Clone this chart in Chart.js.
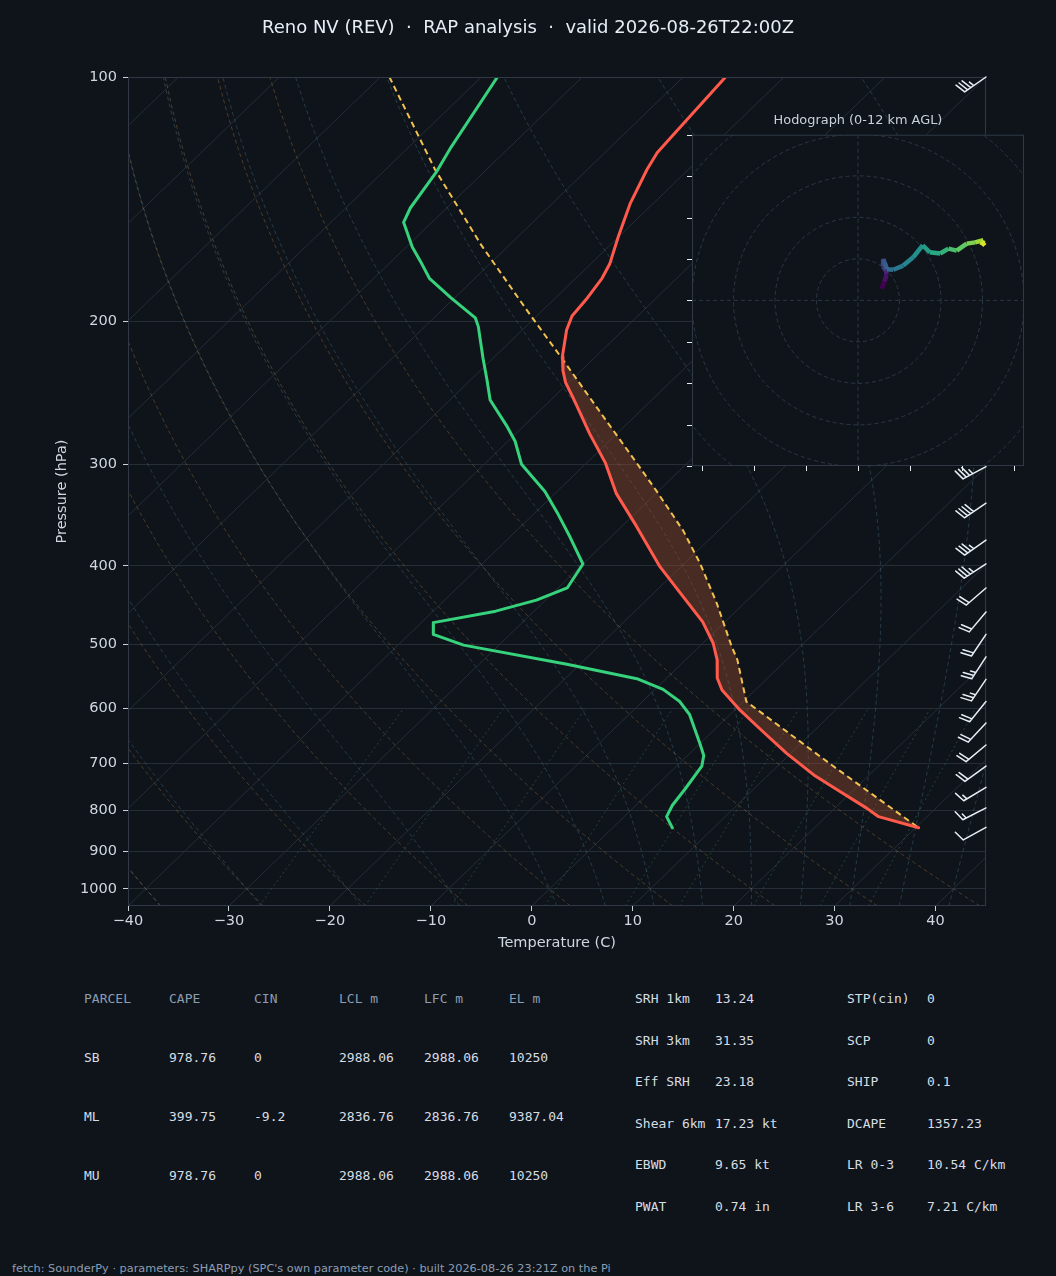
<!DOCTYPE html>
<html lang="en">
<head>
<meta charset="utf-8">
<title>Reno NV (REV) skew-T</title>
<script src="https://cdn.jsdelivr.net/npm/chart.js@4.4.1/dist/chart.umd.min.js"></script>
<style>
  html, body { margin:0; padding:0; background:#0f141b; }
  body { width:1056px; height:1276px; position:relative; overflow:hidden; font-family:"DejaVu Sans", sans-serif; }
  #main { position:absolute; left:0; top:0; }
  #title { position:absolute; left:0; top:16px; width:1056px; text-align:center; color:#e6edf3; font-size:18px; line-height:22px; white-space:pre; }
  #hodo { position:absolute; left:662px; top:124px; }
  #hodoTitle { position:absolute; left:692px; top:112px; width:332px; text-align:center; color:#c9d1d9; font-size:12.9px; line-height:16px; }
  .cell { position:absolute; font-family:"DejaVu Sans Mono", monospace; font-size:13px; line-height:16px; color:#d6dde4; white-space:pre; }
  .hdr { color:#8d9db1; }
  #footer { position:absolute; left:12px; top:1262px; font-size:11.3px; line-height:14px; color:#8d9db1; white-space:pre; }
</style>
</head>
<body>
<canvas id="main" width="1056" height="970"></canvas>
<div id="title">Reno NV (REV)  ·  RAP analysis  ·  valid 2026-08-26T22:00Z</div>
<canvas id="hodo" width="372" height="356"></canvas>
<div id="hodoTitle">Hodograph (0-12 km AGL)</div>
<div id="table"></div>
<div id="footer">fetch: SounderPy · parameters: SHARPpy (SPC's own parameter code) · built 2026-08-26 23:21Z on the Pi</div>
<script>
// ---------------- data ----------------
const presT  = [100,119,124,130,143,157,170,177,188,197,205,221,230,238,248,275,299,326,358,401,432,469,498,522,550,569,602,641,681,724,759,796,815,841];
const tempC  = [-65.8,-65.0,-64.8,-64.1,-62.3,-60.1,-58.1,-57.4,-56.8,-56.5,-55.6,-53.3,-51.8,-50.3,-48.1,-42.7,-38.1,-33.9,-28.5,-22.1,-17.4,-12.2,-9.0,-6.9,-5.0,-3.3,0.5,5.1,9.6,14.5,18.8,23.2,25.2,30.3];
const presD  = [100,122,131,145,151,162,170,177,187,198,203,222,236,250,270,281,300,324,346,369,398,426,441,455,470,486,501,529,551,568,588,610,661,685,706,754,789,815,841];
const dwptC  = [-88.4,-85.8,-84.7,-83.6,-82.8,-79.4,-76.7,-74.5,-70.4,-65.9,-64.7,-61.0,-58.4,-56.0,-51.5,-49.3,-46.3,-41.2,-37.5,-34.0,-30.0,-29.1,-30.9,-33.8,-38.8,-37.6,-33.5,-21.3,-12.9,-9.2,-6.3,-4.0,-0.1,1.6,2.5,3.2,3.6,4.2,5.9];
const presParcel = [100,130,161,194,222,265,299,323,362,397,445,503,522,588,706,841];
const parcelC    = [-99.1,-85.1,-72.8,-61.5,-53.2,-42.4,-35.0,-30.3,-23.5,-18.5,-12.7,-6.8,-4.9,0.3,15.5,30.3];
const elPres = 221;   // equilibrium level (top of CAPE area)

const barbP   = [100,302,335,372,398,426,456,486,518,552,588,625,665,706,750,795,840];
const barbDir = [235,242,236,235,237,229,220,214,213,214,219,223,230,234,239,243,241];
const barbSpd = [35,35,40,35,35,20,20,20,25,25,20,20,20,20,15,15,10];

const hodoU = [5.7,6.4,6.9,6.7,6.0,6.1,6.4,7.0,8.5,10.9,13.3,15.6,17.3,19.8,21.8,23.8,26.2,28.2,30.2,29.8,30.6];
const hodoV = [2.8,4.6,6.3,7.2,8.2,10.0,9.2,7.5,7.4,8.4,10.4,13.3,11.6,11.3,12.5,12.0,13.7,14.0,14.5,13.3,14.0];

const xTicks = [-40,-30,-20,-10,0,10,20,30,40];
const pTicks = [100,200,300,400,500,600,700,800,900,1000];
const hodoRings  = [10,20,30,40,50];
const hodoXTicks = [-37.5,-25,-12.5,0,12.5,25,37.5];
const hodoYTicks = [-40,-30,-20,-10,0,10,20,30,40];

// reference-line families (MetPy defaults)
const isoT   = [-120,-110,-100,-90,-80,-70,-60,-50,-40,-30,-20,-10,0,10,20,30,40];
const dryT0  = [-40,-30,-20,-10,0,10,20,30,40];
const moistT0= [-40,-30,-20,-10,0,5,10,15,20,25,30,35,40,45];
const mixW   = [0.4,1,2,4,7,10,16,24,32];   // g/kg

// table
const tblHead  = ['PARCEL','CAPE','CIN','LCL m','LFC m','EL m'];
const parcels  = ['SB','ML','MU'];
const capeVals = ['978.76','399.75','978.76'];
const cinVals  = ['0','-9.2','0'];
const lclVals  = ['2988.06','2836.76','2988.06'];
const lfcVals  = ['2988.06','2836.76','2988.06'];
const elVals   = ['10250','9387.04','10250'];
const parLbl1 = ['SRH 1km','SRH 3km','Eff SRH','Shear 6km','EBWD','PWAT'];
const parVal1 = ['13.24','31.35','23.18','17.23 kt','9.65 kt','0.74 in'];
const parLbl2 = ['STP(cin)','SCP','SHIP','DCAPE','LR 0-3','LR 3-6'];
const parVal2 = ['0','0','0.1','1357.23','10.54 C/km','7.21 C/km'];

// ---------------- skew-T geometry ----------------
const P_TOP = 100, P_BOT = 1050, X_MIN = -40, X_MAX = 45;
const SKEW = X_MAX - X_MIN;                 // 45 degree skew in axes units
const LOGSPAN = Math.log(P_BOT / P_TOP);
const skewX = (T, p) => T + SKEW * Math.log(P_BOT / p) / LOGSPAN;
const pt = (T, p) => ({x: skewX(T, p), y: p});

// thermodynamics for background lines
const Rd = 287.04749, Cp = 1004.6662, Lv = 2.50084e6, EPS = 0.6219569, KAP = Rd / Cp;
const esat = Tk => { const c = Tk - 273.15; return 6.112 * Math.exp(17.67 * c / (c + 243.5)); };
const rsat = (p, Tk) => { const e = esat(Tk); return EPS * e / (p - e); };
const dTdp = (p, T) => { const r = rsat(p, T); return (Rd * T + Lv * r) / (Cp + Lv * Lv * r * EPS / (Rd * T * T)) / p; };
function moistLine(t0) {
  const up = [], dn = [];
  let T = t0 + 273.15, p = 1000, h = -5;
  up.push({p, T});
  while (p > P_TOP + 1e-6) {
    const k1 = dTdp(p, T), k2 = dTdp(p + h/2, T + h/2*k1), k3 = dTdp(p + h/2, T + h/2*k2), k4 = dTdp(p + h, T + h*k3);
    T += h/6*(k1 + 2*k2 + 2*k3 + k4); p += h; up.push({p, T});
  }
  T = t0 + 273.15; p = 1000; h = 5;
  while (p < P_BOT - 1e-6) {
    const k1 = dTdp(p, T), k2 = dTdp(p + h/2, T + h/2*k1), k3 = dTdp(p + h/2, T + h/2*k2), k4 = dTdp(p + h, T + h*k3);
    T += h/6*(k1 + 2*k2 + 2*k3 + k4); p += h; dn.push({p, T});
  }
  return dn.reverse().concat(up).map(o => pt(o.T - 273.15, o.p));
}
function dryLine(t0) {
  const out = [];
  for (let p = P_BOT; p >= P_TOP; p -= 10) out.push(pt((t0 + 273.15) * Math.pow(p / 1000, KAP) - 273.15, p));
  return out;
}
function mixLine(wgk) {
  const w = wgk / 1000, out = [];
  for (let p = P_BOT; p >= 600; p -= 10) {
    const e = p * w / (EPS + w), l = Math.log(e / 6.112);
    out.push(pt(243.5 * l / (17.67 - l), p));
  }
  return out;
}

const GRID = '#252d37';
function lineDS(data, color, width, dash, order, extra) {
  return Object.assign({data, showLine: true, borderColor: color, borderWidth: width, borderDash: dash,
    pointRadius: 0, pointHoverRadius: 0, fill: false, order, tension: 0}, extra || {});
}

const datasets = [];
datasets.push(lineDS(presT.map((p, i) => pt(tempC[i], p)), '#ff5a4b', 3, [], 0, {borderJoinStyle: 'round', borderCapStyle: 'round'}));
datasets.push(lineDS(presD.map((p, i) => pt(dwptC[i], p)), '#36d27c', 3, [], 0, {borderJoinStyle: 'round', borderCapStyle: 'round'}));
const PARCEL_IDX = datasets.length;
datasets.push(lineDS(presParcel.map((p, i) => pt(parcelC[i], p)), '#f2c14e', 2, [6, 4], 1));
isoT.forEach(T => datasets.push(lineDS([pt(T, P_BOT), pt(T, P_TOP)], GRID, 1, [], 20)));
dryT0.forEach(t => datasets.push(lineDS(dryLine(t), 'rgba(180,130,70,0.36)', 1, [4, 3], 10)));
moistT0.forEach(t => datasets.push(lineDS(moistLine(t), 'rgba(90,150,175,0.30)', 1, [4, 3], 10)));
mixW.forEach(w => datasets.push(lineDS(mixLine(w), 'rgba(80,175,125,0.30)', 1, [2, 3], 10)));

// CAPE polygon from parcel and environment arrays
const capePoly = [];
presParcel.forEach((p, i) => { if (p >= elPres) capePoly.push([parcelC[i], p]); });
for (let i = presT.length - 1; i >= 0; i--) if (presT[i] >= elPres) capePoly.push([tempC[i], presT[i]]);

function drawBarb(ctx, x0, y0, dirDeg, spd) {
  const L = 26, F = 11, SP = 3.7, a = 73 * Math.PI / 180, c = Math.cos(a), s = Math.sin(a);
  const d = dirDeg * Math.PI / 180, dx = Math.sin(d), dy = -Math.cos(d);
  const fx = dx * c - dy * s, fy = dx * s + dy * c;
  const tx = x0 + dx * L, ty = y0 + dy * L;
  ctx.beginPath();
  ctx.moveTo(x0, y0); ctx.lineTo(tx, ty);
  let r = Math.round(spd / 5) * 5;
  const flags = Math.floor(r / 50); r -= flags * 50;
  const full = Math.floor(r / 10); r -= full * 10;
  const half = r >= 5;
  let k = 0;
  for (let i = 0; i < full + flags; i++) {
    const bx = tx - dx * SP * k, by = ty - dy * SP * k;
    ctx.moveTo(bx, by); ctx.lineTo(bx + fx * F, by + fy * F); k++;
  }
  if (half) {
    if (k === 0) k = 1;
    const bx = tx - dx * SP * k, by = ty - dy * SP * k;
    ctx.moveTo(bx, by); ctx.lineTo(bx + fx * F * 0.5, by + fy * F * 0.5);
  }
  ctx.stroke();
}

const skewPlugin = {
  id: 'skewExtras',
  beforeDatasetDraw(chart, args) {
    if (args.index !== PARCEL_IDX) return;
    const {ctx, chartArea: ca, scales: {x, y}} = chart;
    ctx.save();
    ctx.beginPath(); ctx.rect(ca.left, ca.top, ca.right - ca.left, ca.bottom - ca.top); ctx.clip();
    ctx.beginPath();
    capePoly.forEach(([T, p], i) => {
      const px = x.getPixelForValue(skewX(T, p)), py = y.getPixelForValue(p);
      if (i === 0) ctx.moveTo(px, py); else ctx.lineTo(px, py);
    });
    ctx.closePath();
    ctx.fillStyle = 'rgba(175,86,50,0.36)';
    ctx.fill();
    ctx.restore();
  },
  afterDatasetsDraw(chart) {
    const {ctx, chartArea: ca, scales: {y}} = chart;
    ctx.save();
    ctx.strokeStyle = '#2f3844'; ctx.lineWidth = 1;
    ctx.strokeRect(ca.left + 0.5, ca.top + 0.5, ca.right - ca.left - 1, ca.bottom - ca.top - 1);
    ctx.strokeStyle = '#e6edf3'; ctx.lineWidth = 1.5; ctx.lineCap = 'round'; ctx.lineJoin = 'round';
    barbP.forEach((p, i) => drawBarb(ctx, ca.right, y.getPixelForValue(p), barbDir[i], barbSpd[i]));
    ctx.restore();
  }
};

Chart.defaults.font.family = '"DejaVu Sans", sans-serif';
const minus = v => (v < 0 ? '\u2212' + Math.abs(v) : String(v));
const tickFont = {family: '"DejaVu Sans", sans-serif', size: 14.5};

new Chart(document.getElementById('main'), {
  type: 'scatter',
  data: {datasets},
  options: {
    responsive: false, animation: false, events: [],
    layout: {padding: {left: 0, top: 77, right: 70, bottom: 8}},
    plugins: {legend: {display: false}, tooltip: {enabled: false}, title: {display: false}},
    scales: {
      x: {
        type: 'linear', min: X_MIN, max: X_MAX,
        afterBuildTicks: s => { s.ticks = xTicks.map(v => ({value: v})); },
        afterFit: s => { s.height = 56; },
        grid: {drawOnChartArea: false, drawTicks: true, tickLength: 5, color: '#c9d1d9', tickColor: '#c9d1d9'},
        border: {display: false},
        ticks: {color: '#d0d7de', font: tickFont, padding: 2, autoSkip: false, maxRotation: 0, minRotation: 0, callback: v => minus(v)},
        title: {display: true, text: 'Temperature (C)', color: '#d0d7de', font: tickFont, padding: {top: 0, bottom: 10}}
      },
      y: {
        type: 'logarithmic', reverse: true, min: P_TOP, max: P_BOT,
        afterBuildTicks: s => { s.ticks = pTicks.map(v => ({value: v})); },
        afterFit: s => { s.width = 128; },
        grid: {drawOnChartArea: true, drawTicks: true, tickLength: 5, color: GRID, tickColor: '#c9d1d9', lineWidth: 1},
        border: {display: false},
        ticks: {color: '#d0d7de', font: tickFont, padding: 6, autoSkip: false, callback: v => String(v)},
        title: {display: true, text: 'Pressure (hPa)', color: '#d0d7de', font: tickFont, padding: {top: 54, bottom: 0}}
      }
    }
  },
  plugins: [skewPlugin]
});

// ---------------- hodograph ----------------
const VIR = ['#440154','#472d7b','#3b528b','#2c728e','#21918c','#28ae80','#5ec962','#addc30','#fde725'];
const hexRGB = h => [parseInt(h.slice(1,3),16), parseInt(h.slice(3,5),16), parseInt(h.slice(5,7),16)];
function viridis(t) {
  t = Math.min(1, Math.max(0, t));
  const s = t * (VIR.length - 1), i = Math.min(VIR.length - 2, Math.floor(s)), f = s - i;
  const a = hexRGB(VIR[i]), b = hexRGB(VIR[i + 1]);
  return 'rgb(' + a.map((v, j) => Math.round(v + (b[j] - v) * f)).join(',') + ')';
}
const nH = hodoU.length;
const hodoPlugin = {
  id: 'hodoBg',
  beforeDatasetsDraw(chart) {
    const {ctx, chartArea: ca, scales: {x, y}} = chart;
    ctx.save();
    ctx.fillStyle = '#0f141b';
    ctx.fillRect(ca.left, ca.top, ca.right - ca.left, ca.bottom - ca.top);
    ctx.beginPath(); ctx.rect(ca.left, ca.top, ca.right - ca.left, ca.bottom - ca.top); ctx.clip();
    const cx = x.getPixelForValue(0), cy = y.getPixelForValue(0);
    ctx.strokeStyle = '#2c3845'; ctx.lineWidth = 1; ctx.setLineDash([4, 3]);
    hodoRings.forEach(r => {
      const rad = x.getPixelForValue(r) - cx;
      ctx.beginPath(); ctx.arc(cx, cy, rad, 0, Math.PI * 2); ctx.stroke();
    });
    ctx.beginPath();
    ctx.moveTo(ca.left, cy); ctx.lineTo(ca.right, cy);
    ctx.moveTo(cx, ca.top); ctx.lineTo(cx, ca.bottom);
    ctx.stroke();
    ctx.restore();
    ctx.save();
    ctx.strokeStyle = '#2f3844'; ctx.lineWidth = 1;
    ctx.strokeRect(ca.left + 0.5, ca.top + 0.5, ca.right - ca.left - 1, ca.bottom - ca.top - 1);
    ctx.strokeStyle = '#e6edf3'; ctx.lineWidth = 1;
    ctx.beginPath();
    hodoYTicks.forEach(v => { const py = Math.round(y.getPixelForValue(v)) + 0.5; ctx.moveTo(ca.left - 5, py); ctx.lineTo(ca.left, py); });
    hodoXTicks.forEach(u => { const px = Math.round(x.getPixelForValue(u)) + 0.5; ctx.moveTo(px, ca.bottom); ctx.lineTo(px, ca.bottom + 5); });
    ctx.stroke();
    ctx.restore();
  }
};
new Chart(document.getElementById('hodo'), {
  type: 'scatter',
  data: {datasets: [{
    data: hodoU.map((u, i) => ({x: u, y: hodoV[i]})),
    showLine: true, pointRadius: 0, borderWidth: 4.5, borderColor: '#21918c',
    borderJoinStyle: 'round', borderCapStyle: 'butt',
    segment: {borderColor: c => viridis(c.p0DataIndex / (nH - 1))}
  }]},
  options: {
    responsive: false, animation: false, events: [],
    layout: {padding: {left: 30, top: 10.7, right: 10, bottom: 14}},
    plugins: {legend: {display: false}, tooltip: {enabled: false}},
    scales: {
      x: {type: 'linear', display: false, min: -40, max: 40},
      y: {type: 'linear', display: false, min: -40, max: 40}
    }
  },
  plugins: [hodoPlugin]
});

// ---------------- table text ----------------
const tbl = document.getElementById('table');
function cell(text, x, yc, cls) {
  const d = document.createElement('div');
  d.className = 'cell' + (cls ? ' ' + cls : '');
  d.style.left = x + 'px'; d.style.top = (yc - 8) + 'px';
  d.textContent = text; tbl.appendChild(d);
}
const colX = [84, 169, 254, 339, 424, 509];
tblHead.forEach((h, i) => cell(h, colX[i], 999, 'hdr'));
const rowY = [1058, 1117, 1176];
parcels.forEach((p, r) => {
  [p, capeVals[r], cinVals[r], lclVals[r], lfcVals[r], elVals[r]].forEach((v, i) => cell(v, colX[i], rowY[r]));
});
const parY = [999, 1041, 1082, 1124, 1165, 1207];
parLbl1.forEach((l, i) => { cell(l, 635, parY[i]); cell(parVal1[i], 715, parY[i]); });
parLbl2.forEach((l, i) => { cell(l, 847, parY[i]); cell(parVal2[i], 927, parY[i]); });
</script>
</body>
</html>
